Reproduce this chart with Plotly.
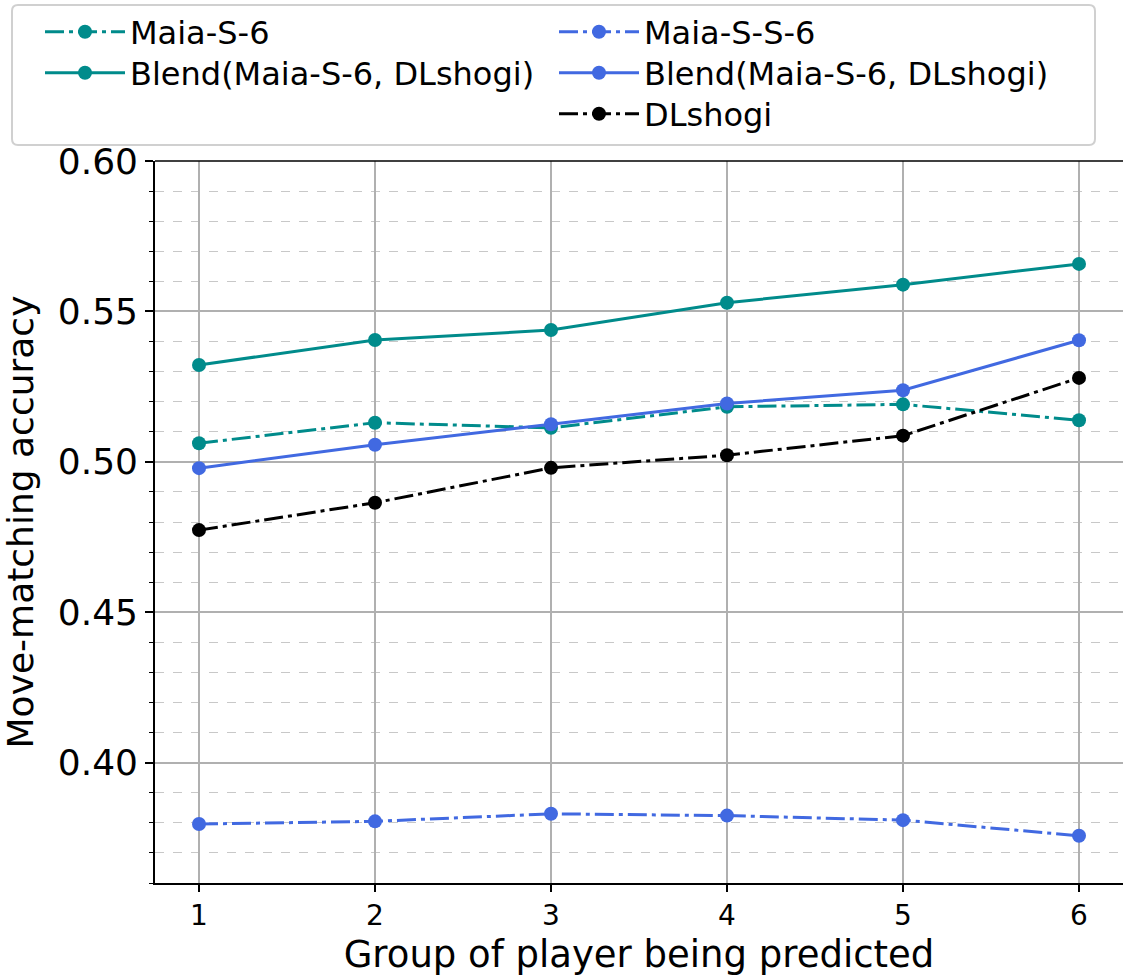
import plotly.graph_objects as go

groups = [1, 2, 3, 4, 5, 6]
maia_s6 = [0.5062, 0.5130, 0.5113, 0.5183, 0.5191, 0.5138]
blend_teal = [0.5322, 0.5405, 0.5438, 0.5529, 0.5589, 0.5658]
maia_ss6 = [0.3796, 0.3805, 0.3830, 0.3824, 0.3809, 0.3757]
blend_blue = [0.4979, 0.5057, 0.5125, 0.5194, 0.5238, 0.5404]
dlshogi = [0.4773, 0.4864, 0.4980, 0.5022, 0.5087, 0.5279]

TEAL = "#008B8B"
BLUE = "#4169E1"
BLACK = "#000000"
DASHDOT = "19px,5px,4px,5px"
FONT = "DejaVu Sans"

W, H = 1123, 979
ML, MR, MT, MB = 155, 0, 161, 96
PW, PH = W - ML - MR, H - MT - MB


def px_x(p):
    return (p - ML) / PW


def px_y(p):
    return (H - MB - p) / PH


# (name, values, color, dash, legend id, legend row y px, legend column x px)
series = [
    ("Maia-S-6", maia_s6, TEAL, DASHDOT, "legend", 32, 40),
    ("Blend(Maia-S-6, DLshogi)", blend_teal, TEAL, "solid", "legend2", 73, 40),
    ("Maia-S-S-6", maia_ss6, BLUE, DASHDOT, "legend3", 32, 554),
    ("Blend(Maia-S-6, DLshogi)", blend_blue, BLUE, "solid", "legend4", 73, 554),
    ("DLshogi", dlshogi, BLACK, DASHDOT, "legend5", 114, 554),
]

fig = go.Figure()
legends = {}
for name, vals, color, dash, lg, ly, lx in series:
    fig.add_trace(go.Scatter(
        x=groups, y=vals, name=name, mode="lines+markers",
        line=dict(color=color, width=3, dash=dash),
        marker=dict(color=color, size=14),
        legend=lg,
    ))
    legends[lg] = dict(
        xref="paper", yref="paper", x=px_x(lx), y=px_y(ly),
        xanchor="left", yanchor="middle",
        font=dict(size=32, family=FONT, color="black"),
        borderwidth=0, bgcolor="rgba(0,0,0,0)", itemwidth=80,
    )

# rounded legend frame
bx0, bx1, by0, by1, r = 12, 1095, 5, 145, 6
rx, ry = r / PW, r / PH
X0, X1 = px_x(bx0), px_x(bx1)
Y0, Y1 = px_y(by1), px_y(by0)
frame_path = (
    f"M {X0 + rx},{Y1} L {X1 - rx},{Y1} Q {X1},{Y1} {X1},{Y1 - ry} "
    f"L {X1},{Y0 + ry} Q {X1},{Y0} {X1 - rx},{Y0} "
    f"L {X0 + rx},{Y0} Q {X0},{Y0} {X0},{Y0 + ry} "
    f"L {X0},{Y1 - ry} Q {X0},{Y1} {X0 + rx},{Y1} Z"
)

fig.update_layout(
    width=W, height=H,
    margin=dict(l=ML, r=MR, t=MT, b=MB, autoexpand=False),
    paper_bgcolor="white", plot_bgcolor="white",
    font=dict(family=FONT, color="black"),
    showlegend=True,
    **legends,
    xaxis=dict(
        range=[0.75, 6.25], tickvals=groups, ticktext=[str(g) for g in groups],
        showgrid=True, gridcolor="#b0b0b0", gridwidth=2,
        showline=True, linecolor="black", linewidth=1.6,
        ticks="outside", ticklen=7, tickwidth=1.5, tickcolor="black",
        tickfont=dict(size=28, family=FONT),
        title=dict(text="Group of player being predicted", font=dict(size=37, family=FONT), standoff=10),
        zeroline=False,
    ),
    yaxis=dict(
        range=[0.36, 0.60], dtick=0.05, tick0=0, tickformat=".2f",
        showgrid=True, gridcolor="#b0b0b0", gridwidth=2,
        showline=True, linecolor="black", linewidth=1.6,
        ticks="outside", ticklen=8, tickwidth=1.5, tickcolor="black",
        tickfont=dict(size=36, family=FONT),
        title=dict(text="Move-matching accuracy", font=dict(size=36, family=FONT), standoff=14),
        zeroline=False,
        minor=dict(dtick=0.01, tick0=0, showgrid=True, gridcolor="#c8c8c8", gridwidth=1,
                   griddash="dash", ticks="outside", ticklen=4, tickwidth=1.2, tickcolor="black"),
    ),
    shapes=[
        dict(type="line", xref="paper", yref="paper", x0=0, x1=1, y0=1, y1=1,
             line=dict(color="black", width=1.6)),
        dict(type="path", xref="paper", yref="paper", path=frame_path,
             line=dict(color="#d0d0d0", width=2), fillcolor="white", layer="above"),
    ],
)

fig.write_html("out.html")
